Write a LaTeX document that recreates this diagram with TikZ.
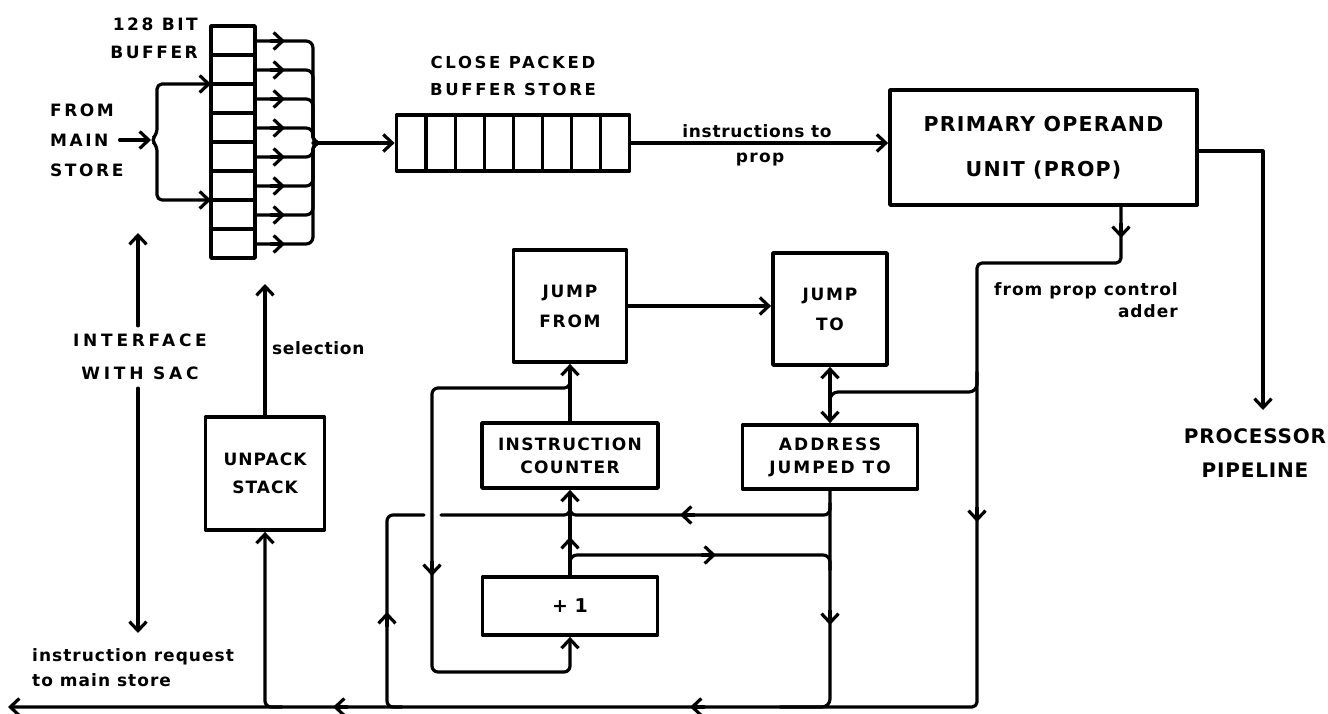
\documentclass[tikz,border=0pt]{standalone}
\usepackage{fontspec}
\usetikzlibrary{arrows.meta,calc}
\newfontfamily\lab{DejaVu Sans}
\newcommand\fs[3]{\lab\bfseries\addfontfeatures{LetterSpace=#3}\fontsize{#1}{#2}\selectfont}
\begin{document}
\begin{tikzpicture}[x=1pt,y=-1pt,
  >={Straight Barb[length=9pt,width=17pt]},
  line cap=round, line join=round,
  ln/.style={line width=3.2pt},
  box/.style={draw, line width=3.8pt, inner sep=0pt, align=center},
  lbl/.style={inner sep=0pt, align=center},
  marr/.pic={\draw[line width=3.2pt,->] (-14,0) -- (0,0);}]
\useasboundingbox[fill=white] (0,0) rectangle (1328,714);

% ---------- boxes ----------
\node[box, minimum width=44pt, minimum height=232pt] (buf) at (233,142) {};
\foreach \k in {1,...,7} \draw[line width=3.4pt] (211,{26+29*\k}) -- (255,{26+29*\k});
\node[box, minimum width=233pt, minimum height=56pt] (cpb) at (513,143) {};
\foreach \k in {1,...,7} \draw[line width=3.4pt] ({397+29.1*\k},115) -- ({397+29.1*\k},171);
\node[box, minimum width=307pt, minimum height=115pt, font={\fs{20.5}{45}{6}}] (prop) at (1043.5,147.5) {PRIMARY OPERAND\\UNIT (PROP)};
\node[box, minimum width=113pt, minimum height=112pt, font={\fs{17}{30}{10}}] (jfrom) at (570,306) {JUMP\\FROM};
\node[box, minimum width=114pt, minimum height=112pt, font={\fs{17}{30}{10}}] (jto) at (830,309) {JUMP\\TO};
\node[box, minimum width=176pt, minimum height=65pt, font={\fs{17}{23}{8}}] (ic) at (570,455.5) {INSTRUCTION\\COUNTER};
\node[box, minimum width=175pt, minimum height=58pt, font={\fs{19}{22}{0}}] (plus1) at (570,606) {+ 1};
\node[box, minimum width=175pt, minimum height=64pt, font={\fs{17}{23}{12}}] (addr) at (830,457) {ADDRESS\\JUMPED TO};
\node[box, minimum width=119pt, minimum height=113pt, font={\fs{17}{28}{6}}] (unpack) at (265,473.5) {UNPACK\\STACK};

% ---------- labels ----------
\node[lbl, align=right, anchor=east, font={\fs{17}{28}{15}}] (bt) at (198,38) {128 BIT\\BUFFER};
\node[lbl, align=left, anchor=west, font={\fs{17}{30}{15}}] (fms) at (50,140) {FROM\\MAIN\\STORE};
\node[lbl, font={\fs{16.5}{27}{16}}] (cpt) at (513,76) {CLOSE PACKED\\BUFFER STORE};
\node[lbl, font={\fs{17}{28}{4}}] (l1) at (757,131) {instructions to};
\node[lbl, font={\fs{17}{28}{8}}] (l2) at (760,160) {prop};
\node[lbl, font={\fs{20}{34}{4}}] (pp) at (1255,453) {PROCESSOR\\PIPELINE};
\node[lbl, align=right, anchor=east, font={\fs{17}{22}{6}}] (fpc) at (1178,300) {from prop control\\adder};
\node[lbl, inner sep=8pt, font={\fs{17}{33}{22}}] (sac) at (140,357) {INTERFACE\\WITH SAC};
\node[lbl, anchor=west, font={\fs{17}{22}{4}}] (sel) at (272,348) {selection};
\node[lbl, align=left, anchor=north west, font={\fs{17}{25}{6}}] (irq) at (32,648) {instruction request\\to main store};

% ---------- coordinates ----------
\coordinate (bp) at (151,140);
\coordinate (in1) at (211,84);
\coordinate (in2) at (211,200);
\coordinate (bm) at (313,143);
\coordinate (pe) at (1263,151);
\coordinate (pt) at (1263,410);
\coordinate (pa) at (1121,263);
\coordinate (pb) at (977,263);
\coordinate (pc) at (977,707);
\coordinate (le) at (8,707);
\coordinate (ja) at (830,392);
\coordinate (selt) at (265,284);
\coordinate (s1) at (138,233);
\coordinate (s2) at (138,633);

% ---------- input to 128 bit buffer ----------
\draw[ln,->] ($(fms.east)+(-4,0)$) -- (bp);
\draw[ln,<->,rounded corners=5] (in1) -- (157,84) -- (157,134) -- (bp) -- (157,146) -- (157,200) -- (in2);

% ---------- buffer outputs merged ----------
\foreach \y in {41,70,99,128,157,186,215,244} {
  \draw[ln, rounded corners=7] (256,\y) -- (313,\y) -- (bm) -- (330,143);
  \pic at (285,\y) {marr};
}
\draw[ln,->] (bm) -- (cpb.west);

% ---------- to PROP ----------
\draw[ln,->] (cpb.east) -- (cpb.east -| prop.west);
\draw[ln,->] (prop.east |- pe) -- (pe) -- (pt);

% ---------- from prop control adder ----------
\draw[ln,->,rounded corners=5] (prop.south -| pa) -- (pa) -- (pb) -- (pc) -- (le);
\pic[rotate=-90] at (1121,238) {marr};
\pic[rotate=-90] at (977,522) {marr};
\pic[rotate=180] at (690,707) {marr};
\pic[rotate=180] at (333,707) {marr};

\draw[ln, rounded corners=8] (977,372) -- (977,392) -- (ja) -- (830,410);
\draw[ln,<->] (jto.south) -- (addr.north);

% ---------- jump from / to ----------
\draw[ln,->] (jfrom.east) -- (jfrom.east -| jto.west);
\draw[ln,->] (ic.north) -- (jfrom.south);
\draw[ln,->,rounded corners=6] (570,376) -- (570,388) -- (432,388) -- (432,672) -- (570,672) -- (plus1.south);
\pic[rotate=-90] at (432,576) {marr};

% ---------- +1 to counter ----------
\draw[ln,->] (plus1.north) -- (ic.south);
\pic[rotate=90] at (570,537) {marr};
\draw[ln, rounded corners=7] (570,566) -- (570,555) -- (830,555) -- (830,570);
\pic at (716,555) {marr};

% ---------- address jumped to ----------
\draw[ln, rounded corners=8] (addr.south) -- (830,707) -- (780,707);
\pic[rotate=-90] at (830,625) {marr};
\draw[ln, rounded corners=6] (830,503) -- (830,515) -- (570,515) -- (570,503);
\pic[rotate=180] at (680,515) {marr};
\draw[ln, rounded corners=6] (402,707) -- (387,707) -- (387,515) -- (424,515);
\draw[ln, rounded corners=6] (441,515) -- (570,515) -- (570,503);
\pic[rotate=90] at (387,612) {marr};

% ---------- unpack stack ----------
\draw[ln,->,rounded corners=6] (282,707) -- (265,707) -- (unpack.south);
\draw[ln,->] (unpack.north) -- (selt);

% ---------- interface with SAC ----------
\draw[ln,->] (sac.north -| s1) -- (s1);
\draw[ln,->] (sac.south -| s2) -- (s2);
\end{tikzpicture}
\end{document}
